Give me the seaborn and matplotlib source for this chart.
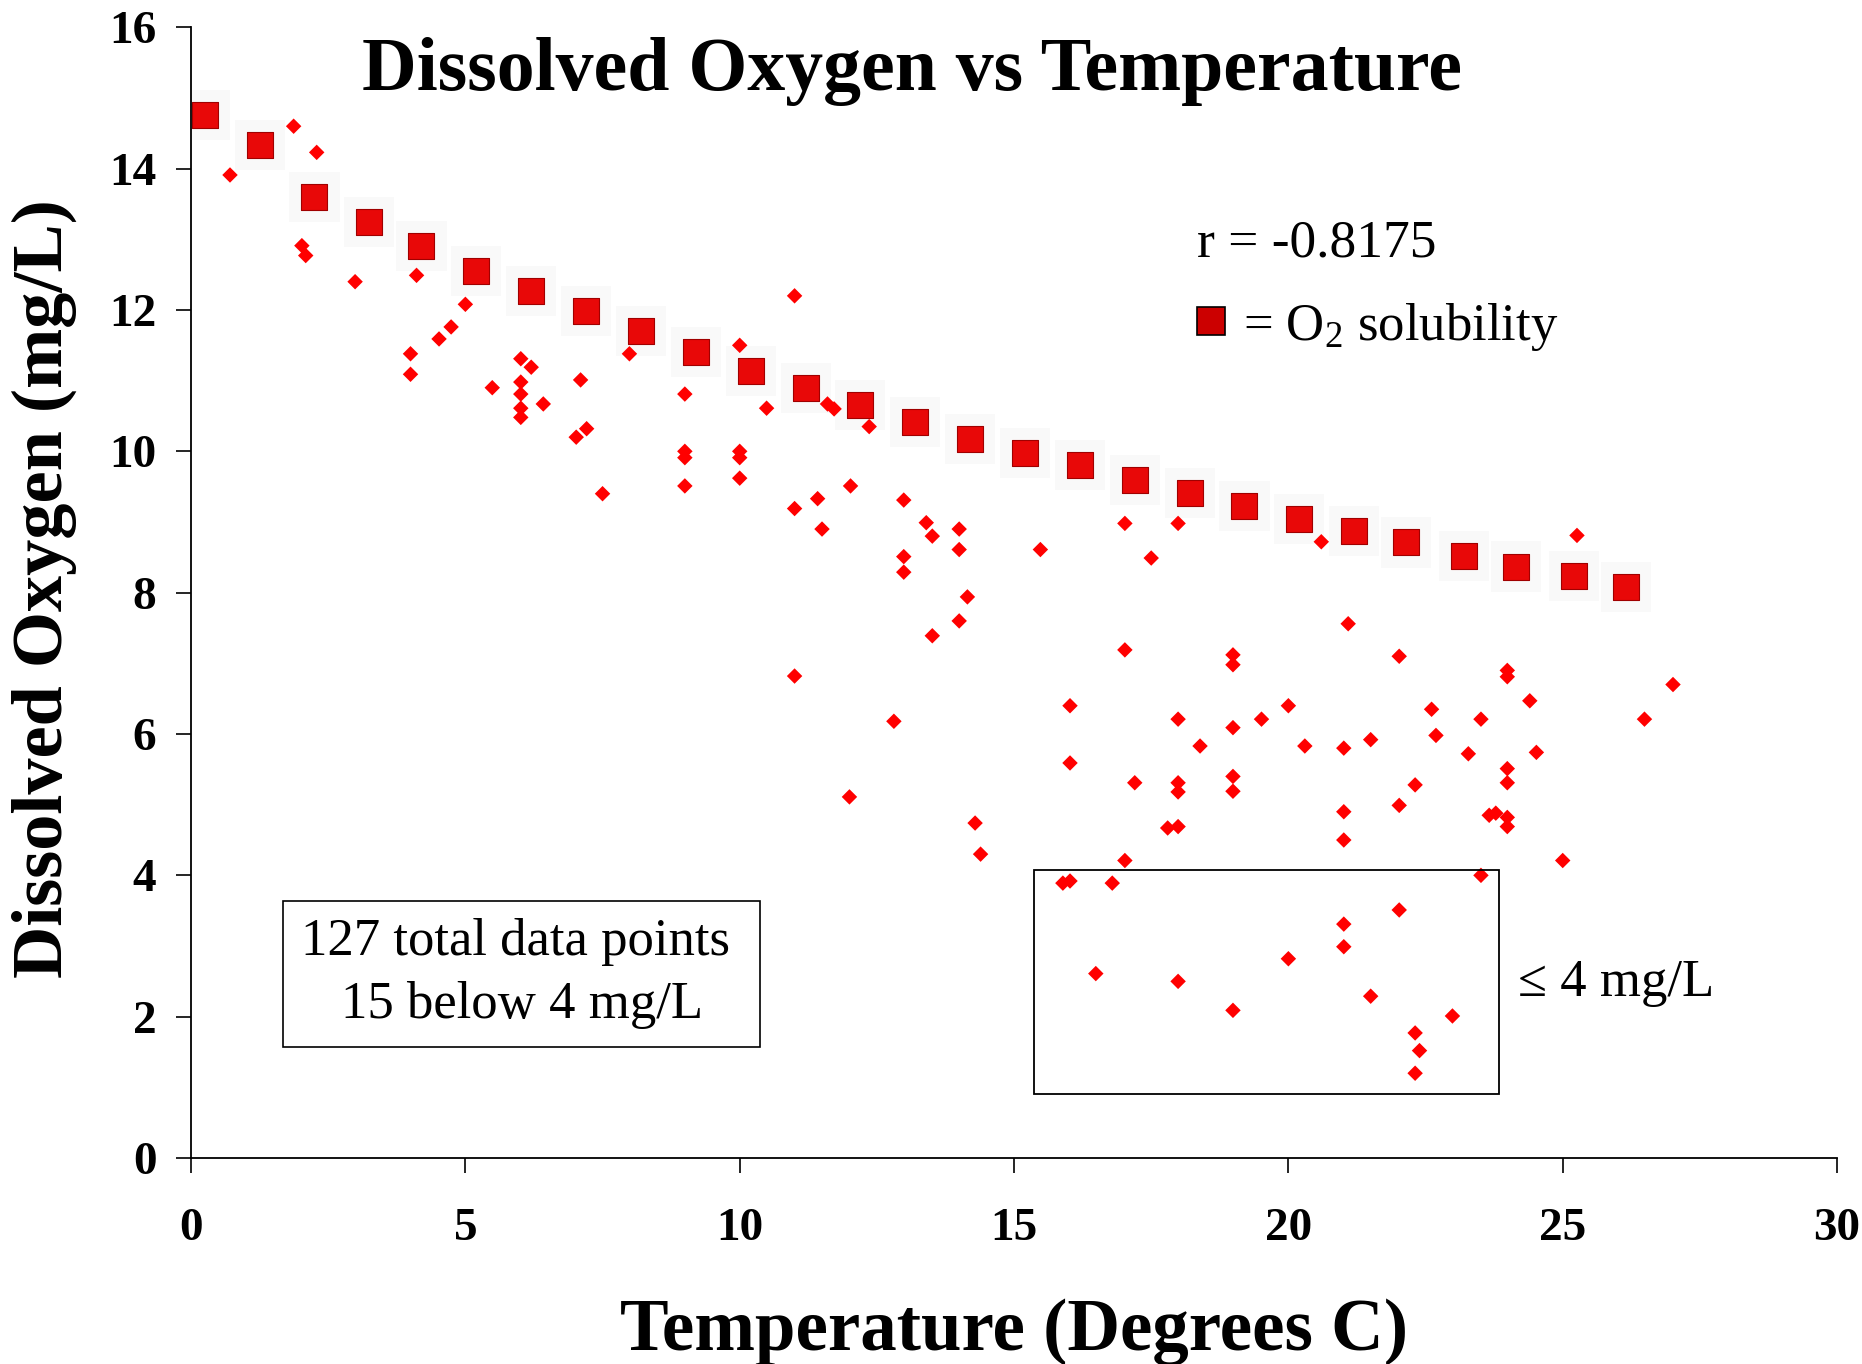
import pandas as pd
import seaborn as sns
import matplotlib.pyplot as plt
from matplotlib.lines import Line2D
from matplotlib.patches import Rectangle

# O2 solubility curve (large squares)
sol_temp = [0.25, 1.25, 2.25, 3.25, 4.2, 5.2, 6.2, 7.2, 8.2, 9.2, 10.2, 11.2, 12.2, 13.2,
            14.2, 15.2, 16.2, 17.2, 18.2, 19.2, 20.2, 21.2, 22.15, 23.2, 24.15, 25.2, 26.15]
sol_do = [14.76, 14.34, 13.6, 13.24, 12.9, 12.55, 12.27, 11.98, 11.7, 11.41, 11.14, 10.89,
          10.66, 10.42, 10.18, 9.98, 9.8, 9.6, 9.41, 9.23, 9.04, 8.87, 8.71, 8.52, 8.37,
          8.24, 8.08]

# measured samples (small diamonds)
temp = [0.71, 1.87, 2.29, 2.02, 2.09, 2.99, 4.11, 5.0, 4.74, 4.52, 4.0, 4.0, 5.49, 6.01,
        6.2, 6.01, 6.01, 6.01, 6.01, 6.42, 7.1, 7.21, 7.02, 7.5, 7.99, 9.0, 9.0, 9.0, 9.0,
        10.0, 10.0, 10.0, 10.0, 10.49, 11.0, 11.0, 11.0, 11.42, 11.5, 11.6, 11.72, 12.02,
        12.0, 12.36, 12.81, 12.99, 12.99, 12.99, 13.4, 13.51, 13.51, 14.0, 14.0, 14.0,
        14.15, 14.29, 14.39, 15.48, 17.02, 17.5, 17.99, 20.6, 25.26,
        21.09, 17.02, 18.99, 18.99, 22.02, 23.99, 23.99, 27.01, 24.4, 16.02, 20.0, 22.61,
        17.99, 19.51, 23.51, 26.49, 18.99, 22.69, 21.5, 18.39, 20.3, 21.01, 23.28, 24.52,
        16.02, 23.99, 18.99, 17.2, 17.99, 23.99, 22.31, 17.99, 18.99, 22.02, 21.01, 23.66,
        23.78, 23.99, 23.99, 17.8, 17.99, 21.01, 25.0, 17.02, 23.51, 15.89, 16.02, 16.79,
        22.02, 21.01, 21.01, 20.0, 16.49, 17.99, 21.5, 18.99, 22.99, 22.31, 22.39, 22.31]
do = [13.91, 14.6, 14.23, 12.91, 12.77, 12.4, 12.49, 12.08, 11.76, 11.59, 11.38, 11.09,
      10.9, 11.31, 11.19, 10.98, 10.81, 10.61, 10.48, 10.67, 11.01, 10.32, 10.2, 9.4,
      11.38, 10.81, 10.0, 9.91, 9.51, 11.5, 10.0, 9.91, 9.62, 10.61, 12.2, 9.19, 6.82,
      9.33, 8.9, 10.67, 10.6, 9.51, 5.11, 10.35, 6.18, 9.31, 8.51, 8.29, 8.99, 8.8, 7.39,
      8.9, 8.61, 7.6, 7.94, 4.74, 4.3, 8.61, 8.98, 8.49, 8.98, 8.72, 8.81,
      7.56, 7.19, 7.12, 6.98, 7.1, 6.9, 6.81, 6.7, 6.47, 6.4, 6.4, 6.35, 6.21, 6.21, 6.21,
      6.21, 6.09, 5.98, 5.92, 5.83, 5.83, 5.8, 5.72, 5.74, 5.59, 5.51, 5.4, 5.31, 5.31,
      5.31, 5.28, 5.18, 5.19, 4.99, 4.9, 4.85, 4.88, 4.82, 4.69, 4.67, 4.69, 4.5, 4.21,
      4.21, 4.0, 3.89, 3.92, 3.89, 3.51, 3.31, 2.99, 2.82, 2.61, 2.5, 2.29, 2.09, 2.01,
      1.77, 1.52, 1.2]

sol = pd.DataFrame({"Temperature": sol_temp, "DO": sol_do})
samples = pd.DataFrame({"Temperature": temp, "DO": do})

sns.set_style("ticks")
plt.rcParams["font.family"] = ["Liberation Serif", "DejaVu Serif"]
plt.rcParams["mathtext.fontset"] = "custom"
plt.rcParams["mathtext.rm"] = "Liberation Serif"
plt.rcParams["mathtext.default"] = "regular"
plt.rcParams["text.color"] = "black"
plt.rcParams["axes.labelcolor"] = "black"
plt.rcParams["xtick.color"] = "black"
plt.rcParams["ytick.color"] = "black"

fig = plt.figure(figsize=(18.62, 13.64), dpi=100)
ax = fig.add_axes([0.1026, 0.151, 0.884, 0.829])

# faint halo behind the solubility squares
sns.scatterplot(data=sol, x="Temperature", y="DO", marker="s", s=1300, color="#f9f9f9",
                edgecolor="none", ax=ax, zorder=1)
sns.scatterplot(data=samples, x="Temperature", y="DO", marker="D", s=62, color="#ff0000",
                edgecolor="none", linewidth=0, ax=ax, zorder=3)
sns.scatterplot(data=sol, x="Temperature", y="DO", marker="s", s=360, color="#e80808",
                edgecolor="#a00000", linewidth=0.8, ax=ax, zorder=2)

ax.set_xlim(0, 30)
ax.set_ylim(0, 16)
ax.set_xticks([0, 5, 10, 15, 20, 25, 30])
ax.set_yticks([0, 2, 4, 6, 8, 10, 12, 14, 16])
sns.despine(ax=ax)
for sp in ["left", "bottom"]:
    ax.spines[sp].set_linewidth(1.3)
    ax.spines[sp].set_color("black")
ax.tick_params(axis="both", direction="out", length=11, width=1.2, colors="black",
               labelcolor="black", labelsize=34)
ax.tick_params(axis="x", pad=25)
ax.tick_params(axis="y", pad=14)
for lab in ax.get_xticklabels() + ax.get_yticklabels():
    lab.set_fontweight("bold")

ax.set_xlabel("Temperature (Degrees C)", fontsize=52.5, fontweight="bold", color="black")
ax.set_ylabel("Dissolved Oxygen (mg/L)", fontsize=52, fontweight="bold", color="black")
ax.xaxis.set_label_coords(0.5, -0.124)
ax.yaxis.set_label_coords(-0.069, 0.504)

ax.text(0.438, 0.961, "Dissolved Oxygen vs Temperature", transform=ax.transAxes,
        fontsize=54.5, fontweight="bold", ha="center", va="center", color="black")
ax.text(0.611, 0.809, "r = -0.8175", transform=ax.transAxes, fontsize=38.5,
        ha="left", va="center", color="black")

handle = Line2D([], [], linestyle="none", marker="s", markersize=20,
                markerfacecolor="#cc0000", markeredgecolor="black", markeredgewidth=1.2)
leg = ax.legend([handle], ["= O$_2$ solubility"], loc="center left",
                bbox_to_anchor=(0.607, 0.735), frameon=False, fontsize=38,
                handlelength=0.8, handletextpad=0.2, borderpad=0, borderaxespad=0)
for t in leg.get_texts():
    t.set_color("black")

ax.text(0.201, 0.163, "127 total data points \n15 below 4 mg/L", transform=ax.transAxes,
        fontsize=38, ha="center", va="center", multialignment="center",
        linespacing=1.4, color="black",
        bbox=dict(boxstyle="square,pad=0.33", facecolor="white", edgecolor="black",
                  linewidth=1.2))

ax.add_patch(Rectangle((15.37, 0.91), 8.46, 3.16, fill=False, edgecolor="black",
                       linewidth=1.3, zorder=4))
ax.text(0.806, 0.1545, "\u2264 4 mg/L", transform=ax.transAxes, fontsize=38,
        ha="left", va="center", color="black")

fig.savefig("out.png", dpi=100)
plt.close(fig)
